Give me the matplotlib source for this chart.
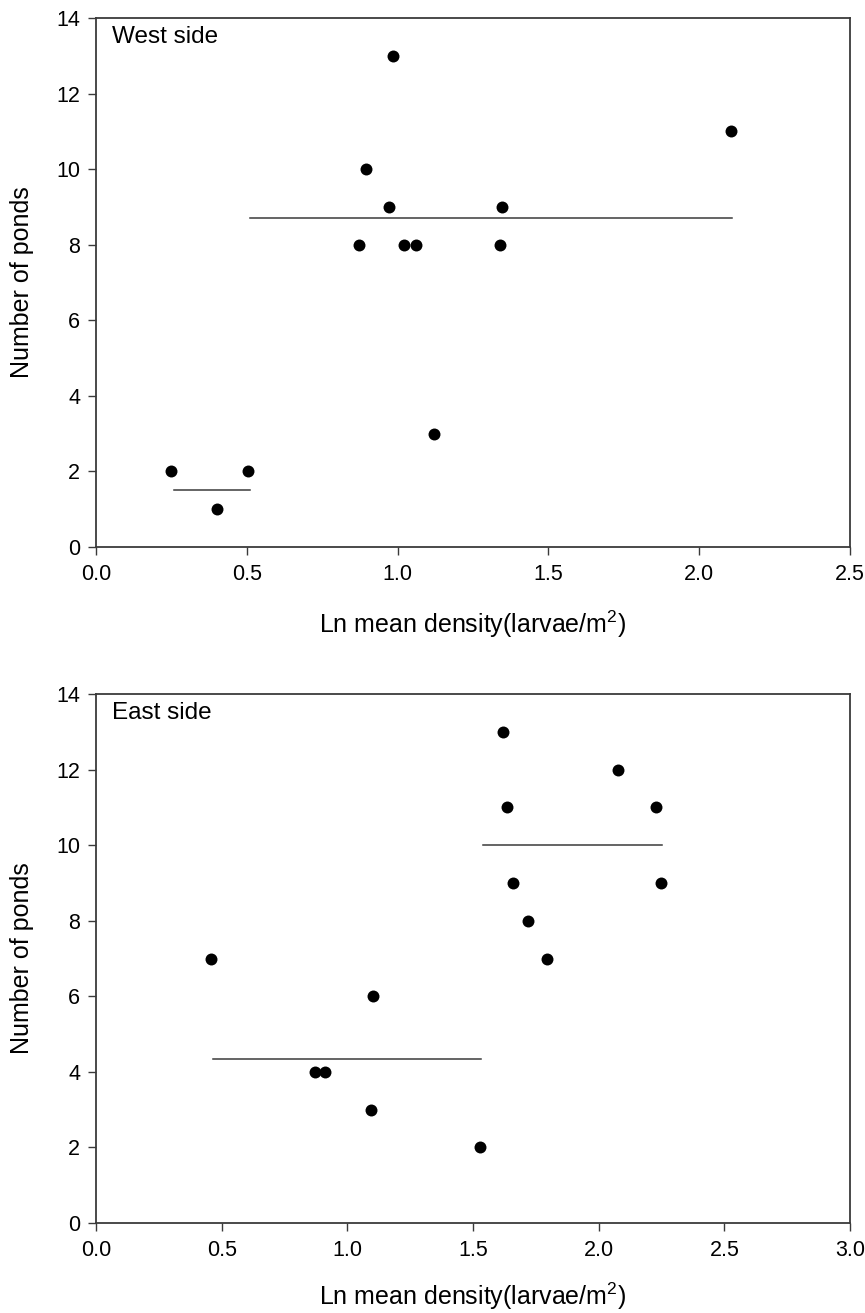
import matplotlib
matplotlib.use("Agg")
import matplotlib.pyplot as plt

plt.rcParams['font.family'] = ['Liberation Sans', 'DejaVu Sans']

# West side data
west_x = [0.250, 0.401, 0.505, 0.872, 0.895, 0.971, 0.985, 1.022, 1.061, 1.122, 1.340, 1.347, 2.105]
west_y = [2, 1, 2, 8, 10, 9, 13, 8, 8, 3, 8, 9, 11]
west_mean_lines = [  # (x_start, x_end, y)
    (0.258, 0.510, 1.5),
    (0.511, 2.109, 8.7),
]

# East side data
east_x = [0.459, 0.871, 0.911, 1.094, 1.103, 1.528, 1.618, 1.637, 1.658, 1.719, 1.793, 2.078, 2.229, 2.249]
east_y = [7, 4, 4, 3, 6, 2, 13, 11, 9, 8, 7, 12, 11, 9]
east_mean_lines = [
    (0.464, 1.532, 4.333),
    (1.541, 2.251, 10.0),
]

west_xticks = [0.0, 0.5, 1.0, 1.5, 2.0, 2.5]
east_xticks = [0.0, 0.5, 1.0, 1.5, 2.0, 2.5, 3.0]
yticks = [0, 2, 4, 6, 8, 10, 12, 14]

W, H = 865, 1313
fig = plt.figure(figsize=(W / 100, H / 100), dpi=100)

left = 96 / W
width = 754 / W
height = 529 / H
ax1 = fig.add_axes([left, 1 - 547 / H, width, height])
ax2 = fig.add_axes([left, 1 - 1223 / H, width, height])

spine_color = '#3a3a3a'

def style(ax, xticks, xmax, label, xlabel_y):
    ax.set_xlim(0, xmax)
    ax.set_ylim(0, 14)
    ax.set_xticks(xticks)
    ax.set_xticklabels([f"{t:.1f}" for t in xticks])
    ax.set_yticks(yticks)
    ax.set_yticklabels([str(t) for t in yticks])
    for s in ax.spines.values():
        s.set_color(spine_color)
        s.set_linewidth(1.3)
    ax.tick_params(axis='both', direction='out', length=5.5, width=1.0,
                   color=spine_color, labelsize=15.5, top=False, right=False)
    ax.tick_params(axis='x', pad=7)
    ax.tick_params(axis='y', pad=6)
    ax.set_xlabel(r"Ln mean density(larvae/m$^{\mathregular{2}}$)", fontsize=18)
    ax.xaxis.set_label_coords(0.5, xlabel_y)
    ax.xaxis.label.set_va('center')
    ax.set_ylabel("Number of ponds", fontsize=18)
    ax.yaxis.set_label_coords(-0.098, 0.5)
    ax.yaxis.label.set_va('center')
    ax.text(0.021, 0.964, label, transform=ax.transAxes, fontsize=17.5,
            ha='left', va='center')

style(ax1, west_xticks, 2.5, "West side", -0.147)
style(ax2, east_xticks, 3.0, "East side", -0.138)

for ax, xs, ys, lines in [(ax1, west_x, west_y, west_mean_lines),
                           (ax2, east_x, east_y, east_mean_lines)]:
    for x0, x1, yv in lines:
        ax.plot([x0, x1], [yv, yv], color=spine_color, lw=1.1, zorder=2)
    ax.plot(xs, ys, linestyle='none', marker='o', ms=8.6, color='black',
            markeredgewidth=0, zorder=3, clip_on=False)

fig.savefig("out.png", dpi=100)
